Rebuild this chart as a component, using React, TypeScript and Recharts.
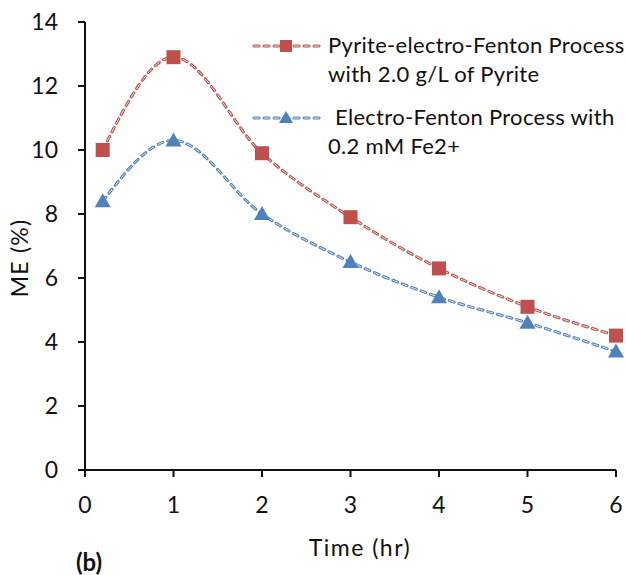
import { ComposedChart, Line, XAxis, YAxis, Customized } from 'recharts';

const times = [0.2, 1, 2, 3, 4, 5, 6];
const pyriteEF = [10.0, 12.9, 9.9, 7.9, 6.3, 5.1, 4.2];
const electroF = [8.4, 10.3, 8.0, 6.5, 5.4, 4.6, 3.7];
const xTicks = [0, 1, 2, 3, 4, 5, 6];
const yTicks = [0, 2, 4, 6, 8, 10, 12, 14];
const seriesNames = [
  ['Pyrite-electro-Fenton Process', 'with 2.0 g/L of Pyrite'],
  ['Electro-Fenton Process with', '0.2 mM Fe2+'],
];

const RED = '#C0504D';
const BLUE = '#4F81BD';
const FONT = 'Lato, "Open Sans", sans-serif';

const data = times.map((t, i) => ({ t, pyrite: pyriteEF[i], ef: electroF[i] }));

const Square = (props: any) => {
  const { cx, cy } = props;
  if (cx == null || cy == null) return null;
  return <rect x={cx - 7} y={cy - 7} width={14} height={14} fill={RED} />;
};

const Triangle = (props: any) => {
  const { cx, cy } = props;
  if (cx == null || cy == null) return null;
  return <polygon points={`${cx},${cy - 8} ${cx + 8},${cy + 6} ${cx - 8},${cy + 6}`} fill={BLUE} />;
};

// legend + axis titles drawn straight into the svg so they don't eat plot space
const LegendItem = ({ y, color, marker, lines, textX }: any) => (
  <g>
    <line x1={254} y1={y} x2={320} y2={y} stroke={color} strokeWidth={3} strokeDasharray="5 5" strokeLinecap="round" />
    <line x1={254} y1={y} x2={320} y2={y} stroke="#fff" strokeWidth={1} strokeDasharray="5 5" strokeLinecap="round" opacity={0.8} />
    {marker === 'square' ? (
      <rect x={280} y={y - 6} width={12} height={12} fill={color} />
    ) : (
      <polygon points={`286,${y - 7} 293,${y + 5} 279,${y + 5}`} fill={color} />
    )}
    <text x={textX} y={y + 1} fontSize={22} letterSpacing={0.3} dominantBaseline="middle">{lines[0]}</text>
    <text x={328} y={y + 30} fontSize={22} letterSpacing={0.3} dominantBaseline="middle">{lines[1]}</text>
  </g>
);

const Overlay = () => (
  <g fontFamily={FONT} fill="#111">
    <LegendItem y={46} color={RED} marker="square" lines={seriesNames[0]} textX={328} />
    <LegendItem y={118} color={BLUE} marker="triangle" lines={seriesNames[1]} textX={335} />
    <text x={22} y={258} fontSize={23} letterSpacing={1.2} textAnchor="middle" dominantBaseline="middle" transform="rotate(-90 22 258)">
      ME (%)
    </text>
    <text x={360} y={550} fontSize={23} letterSpacing={1.5} textAnchor="middle" dominantBaseline="middle">
      Time (hr)
    </text>
    <text x={89} y={565} fontSize={24} fontWeight="bold" textAnchor="middle" dominantBaseline="middle">
      (b)
    </text>
  </g>
);

export default function App() {
  return (
    <div style={{ position: 'absolute', left: 0, top: 0, background: '#fff' }}>
      <ComposedChart width={626} height={575} data={data} margin={{ top: 22, right: 10, left: 0, bottom: 0 }}>
        <XAxis
          dataKey="t"
          type="number"
          domain={[0, 6]}
          ticks={xTicks}
          height={105}
          tickSize={7}
          tickMargin={20}
          stroke="#111"
          strokeWidth={2}
          tick={{ fill: '#111', fontSize: 23, fontFamily: FONT }}
        />
        <YAxis
          domain={[0, 14]}
          ticks={yTicks}
          width={85}
          tickSize={7}
          tickMargin={20}
          stroke="#111"
          strokeWidth={2}
          tick={{ fill: '#111', fontSize: 23, fontFamily: FONT }}
        />
        <Line type="monotone" dataKey="pyrite" stroke={RED} strokeWidth={3} strokeDasharray="5 5" strokeLinecap="round" dot={false} isAnimationActive={false} />
        <Line type="monotone" dataKey="pyrite" stroke="#fff" strokeWidth={1} strokeDasharray="5 5" strokeLinecap="round" strokeOpacity={0.8} dot={<Square />} activeDot={false} isAnimationActive={false} />
        <Line type="monotone" dataKey="ef" stroke={BLUE} strokeWidth={3} strokeDasharray="5 5" strokeLinecap="round" dot={false} isAnimationActive={false} />
        <Line type="monotone" dataKey="ef" stroke="#fff" strokeWidth={1} strokeDasharray="5 5" strokeLinecap="round" strokeOpacity={0.8} dot={<Triangle />} activeDot={false} isAnimationActive={false} />
        <Customized component={Overlay} />
      </ComposedChart>
    </div>
  );
}
